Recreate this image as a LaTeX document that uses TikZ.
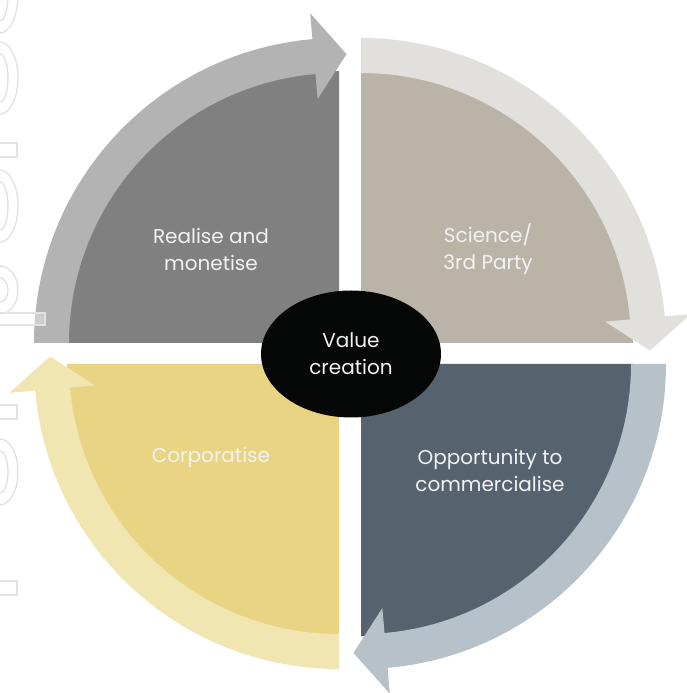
\documentclass[tikz,border=0pt]{standalone}
\usepackage{fontspec}
\setmainfont{Poppins}
\usetikzlibrary{calc}
\usetikzlibrary{shapes.geometric}
\definecolor{realisefill}{HTML}{808080}
\definecolor{realiseband}{HTML}{B3B3B3}
\definecolor{sciencefill}{HTML}{B9B3A8}
\definecolor{scienceband}{HTML}{E1E0DC}
\definecolor{opportunityfill}{HTML}{56636E}
\definecolor{opportunityband}{HTML}{B6C1C9}
\definecolor{corporatefill}{HTML}{E8D483}
\definecolor{corporateband}{HTML}{F1E5B1}
\definecolor{valueblack}{HTML}{060808}
\definecolor{ghostgrey}{HTML}{E2E2E2}
\newcommand{\quadfill}[4] % centre, first angle, last angle, colour
{
	% quarter disc
	\fill[#4] (#1) -- ($(#1)+(#2:272)$) arc[start angle=#2, end angle=#3, radius=272] -- cycle;
}
\newcommand{\rimarrow}[4] % centre, first angle, last angle, colour
{
	% band along the rim, head at the last angle
	\fill[#4] ($(#1)+(#2:270)$) arc[start angle=#2, end angle=#3, radius=270]
		-- ($(#1)+(#3:245)$) -- ($(#1)+(#3-6.5:289)$) -- ($(#1)+(#3:331)$)
		-- ($(#1)+(#3:305)$) arc[start angle=#3, end angle=#2, radius=305] -- cycle;
}
\newcommand{\ghostring}[2] % y of centre, half height
{
	\draw[ghost] (0,#1) ellipse [x radius=18, y radius=#2];
	\draw[ghost] (0,#1) ellipse [x radius=8, y radius=#2-12];
}
\newcommand{\ghostbar}[1] % y of lower edge
{
	\draw[ghost] (-3,#1) rectangle (17,#1+14);
}
\begin{document}
\begin{tikzpicture}[x=1pt, y=1pt,
	ghost/.style={draw=ghostgrey, line width=1.4},
	steplabel/.style={text=white!95!black, align=center, font=\fontsize{20}{27}\selectfont}]
	% canvas 687 x 693
	\useasboundingbox (0,0) rectangle (687,693);
	\clip (0,0) rectangle (687,693);
	\coordinate (tl) at (339,350);
	\coordinate (tr) at (361,350);
	\coordinate (br) at (361,329);
	\coordinate (bl) at (339,329);

	% quarters
	\quadfill{tl}{90}{180}{realisefill}
	\quadfill{tr}{0}{90}{sciencefill}
	\quadfill{br}{-90}{0}{opportunityfill}
	\quadfill{bl}{180}{270}{corporatefill}

	% arrows round the rim
	\rimarrow{tl}{180}{95}{realiseband}
	\rimarrow{tr}{90}{5}{scienceband}
	\rimarrow{br}{0}{-85}{opportunityband}
	\rimarrow{bl}{270}{185}{corporateband}

	% faint letters on the left edge
	\ghostring{698}{38}
	\ghostring{615}{36}
	\ghostbar{536}
	\ghostring{487}{36}
	\ghostring{403}{24}
	\filldraw[ghost, fill=white, fill opacity=0.35] (-3,368) rectangle (45,380);
	\ghostbar{274}
	\ghostring{221}{33}
	\ghostbar{98}

	% labels
	\node[steplabel] (realise) at (211,443.5) {Realise and\\monetise};
	\node[steplabel] (science) at (488,443.5) {Science/\\3rd Party};
	\node[steplabel] (opportunity) at (490,223) {Opportunity to\\commercialise};
	\node[steplabel] (corporatise) at (211,236) {Corporatise};
	\node[ellipse, fill=valueblack, minimum width=180, minimum height=127, inner sep=0,
		text=white!95!black, align=center, font=\fontsize{20}{27}\selectfont] (value) at (351,339) {Value\\creation};
\end{tikzpicture}
\end{document}
